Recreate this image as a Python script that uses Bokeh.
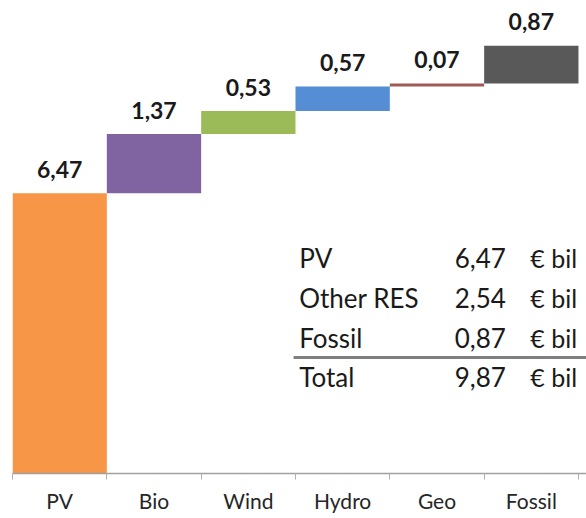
from bokeh.plotting import figure
from bokeh.models import ColumnDataSource, FixedTicker, Range1d
from bokeh.core.properties import value
from bokeh.embed import file_html
from bokeh.resources import INLINE

categories = ["PV", "Bio", "Wind", "Hydro", "Geo", "Fossil"]
amounts = [6.47, 1.37, 0.53, 0.57, 0.07, 0.87]
amount_labels = ["6,47", "1,37", "0,53", "0,57", "0,07", "0,87"]
colors = ["#f79646", "#8064a2", "#9bbb59", "#558ed5", "#9e5a55", "#595959"]

table_names = ["PV", "Other RES", "Fossil", "Total"]
table_values = ["6,47", "2,54", "0,87", "9,87"]
table_unit = "€ bil"

FONT = "Lato"

# waterfall bottoms/tops
bottoms, tops = [], []
run = 0.0
for a in amounts:
    bottoms.append(run)
    run += a
    tops.append(run)
xs = [i + 0.5 for i in range(len(categories))]

src = ColumnDataSource(dict(x=xs, bottom=bottoms, top=tops, color=colors, label=amount_labels))

p = figure(width=586, height=510, output_backend="svg", toolbar_location=None,
           x_range=Range1d(0, 6.085), y_range=Range1d(0, 10.74),
           min_border_left=12, min_border_right=0, min_border_top=8, min_border_bottom=20)
p.frame_width = 574
p.frame_height = 465
p.outline_line_color = None
p.grid.visible = False
p.yaxis.visible = False
p.background_fill_color = "white"

p.vbar(x="x", bottom="bottom", top="top", width=1.0, color="color", source=src, line_color=None)

p.text(x="x", y="top", text="label", source=src, text_align="center", text_baseline="middle",
       y_offset=-24, text_font=value(FONT), text_font_style="bold", text_font_size="23px",
       text_color="#1a1a1a")

# x axis: labels at category centres, ticks at boundaries
ax = p.xaxis[0]
ax.ticker = FixedTicker(ticks=xs, minor_ticks=list(range(len(categories) + 1)))
ax.major_label_overrides = {x: c for x, c in zip(xs, categories)}
ax.major_tick_line_color = None
ax.minor_tick_line_color = "#b0b0b0"
ax.minor_tick_out = 6
ax.minor_tick_in = 0
ax.axis_line_color = "#a0a0a0"
ax.axis_line_width = 1.5
ax.major_label_standoff = 8
ax.major_label_text_font = FONT
ax.major_label_text_font_size = "21px"
ax.major_label_text_color = "#262626"

# summary table
row_y = [4.97, 4.05, 3.14, 2.22]
name_x = 3.04
value_x = 5.23
unit_x = 5.49
p.text(x=[name_x] * 4, y=row_y, text=table_names, text_align="left", text_baseline="middle",
       text_font=value(FONT), text_font_size="26px", text_color="#1a1a1a")
p.text(x=[value_x] * 4, y=row_y, text=table_values, text_align="right", text_baseline="middle",
       text_font=value(FONT), text_font_size="26px", text_color="#1a1a1a")
p.text(x=[unit_x] * 4, y=row_y, text=[table_unit] * 4, text_align="left", text_baseline="middle",
       text_font=value(FONT), text_font_size="25px", text_color="#1a1a1a")
p.segment(x0=[2.98], y0=[2.68], x1=[6.085], y1=[2.68], line_color="#7f7f7f", line_width=3)

open("out.html", "w").write(file_html(p, INLINE))
